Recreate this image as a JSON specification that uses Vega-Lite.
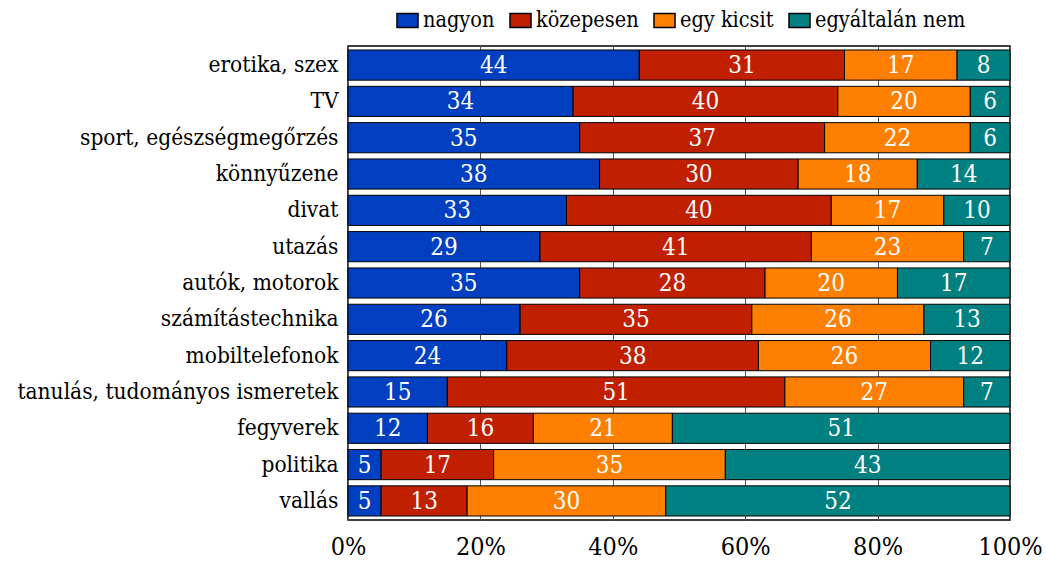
{
  "$schema": "https://vega.github.io/schema/vega-lite/v6.json",
  "autosize": "none",
  "width": 662,
  "height": 474,
  "padding": {"left": 348, "top": 46, "right": 36, "bottom": 41},
  "background": "white",
  "config": {
    "view": {"stroke": "black", "strokeWidth": 1.5},
    "axis": {"labelColor": "black", "domain": false, "ticks": false, "title": null, "labelLimit": 400}
  },
  "data": {"values": [
    {"t": "erotika, szex", "c": "nagyon", "v": 44}, {"t": "erotika, szex", "c": "közepesen", "v": 31}, {"t": "erotika, szex", "c": "egy kicsit", "v": 17}, {"t": "erotika, szex", "c": "egyáltalán nem", "v": 8},
    {"t": "TV", "c": "nagyon", "v": 34}, {"t": "TV", "c": "közepesen", "v": 40}, {"t": "TV", "c": "egy kicsit", "v": 20}, {"t": "TV", "c": "egyáltalán nem", "v": 6},
    {"t": "sport, egészségmegőrzés", "c": "nagyon", "v": 35}, {"t": "sport, egészségmegőrzés", "c": "közepesen", "v": 37}, {"t": "sport, egészségmegőrzés", "c": "egy kicsit", "v": 22}, {"t": "sport, egészségmegőrzés", "c": "egyáltalán nem", "v": 6},
    {"t": "könnyűzene", "c": "nagyon", "v": 38}, {"t": "könnyűzene", "c": "közepesen", "v": 30}, {"t": "könnyűzene", "c": "egy kicsit", "v": 18}, {"t": "könnyűzene", "c": "egyáltalán nem", "v": 14},
    {"t": "divat", "c": "nagyon", "v": 33}, {"t": "divat", "c": "közepesen", "v": 40}, {"t": "divat", "c": "egy kicsit", "v": 17}, {"t": "divat", "c": "egyáltalán nem", "v": 10},
    {"t": "utazás", "c": "nagyon", "v": 29}, {"t": "utazás", "c": "közepesen", "v": 41}, {"t": "utazás", "c": "egy kicsit", "v": 23}, {"t": "utazás", "c": "egyáltalán nem", "v": 7},
    {"t": "autók, motorok", "c": "nagyon", "v": 35}, {"t": "autók, motorok", "c": "közepesen", "v": 28}, {"t": "autók, motorok", "c": "egy kicsit", "v": 20}, {"t": "autók, motorok", "c": "egyáltalán nem", "v": 17},
    {"t": "számítástechnika", "c": "nagyon", "v": 26}, {"t": "számítástechnika", "c": "közepesen", "v": 35}, {"t": "számítástechnika", "c": "egy kicsit", "v": 26}, {"t": "számítástechnika", "c": "egyáltalán nem", "v": 13},
    {"t": "mobiltelefonok", "c": "nagyon", "v": 24}, {"t": "mobiltelefonok", "c": "közepesen", "v": 38}, {"t": "mobiltelefonok", "c": "egy kicsit", "v": 26}, {"t": "mobiltelefonok", "c": "egyáltalán nem", "v": 12},
    {"t": "tanulás, tudományos ismeretek", "c": "nagyon", "v": 15}, {"t": "tanulás, tudományos ismeretek", "c": "közepesen", "v": 51}, {"t": "tanulás, tudományos ismeretek", "c": "egy kicsit", "v": 27}, {"t": "tanulás, tudományos ismeretek", "c": "egyáltalán nem", "v": 7},
    {"t": "fegyverek", "c": "nagyon", "v": 12}, {"t": "fegyverek", "c": "közepesen", "v": 16}, {"t": "fegyverek", "c": "egy kicsit", "v": 21}, {"t": "fegyverek", "c": "egyáltalán nem", "v": 51},
    {"t": "politika", "c": "nagyon", "v": 5}, {"t": "politika", "c": "közepesen", "v": 17}, {"t": "politika", "c": "egy kicsit", "v": 35}, {"t": "politika", "c": "egyáltalán nem", "v": 43},
    {"t": "vallás", "c": "nagyon", "v": 5}, {"t": "vallás", "c": "közepesen", "v": 13}, {"t": "vallás", "c": "egy kicsit", "v": 30}, {"t": "vallás", "c": "egyáltalán nem", "v": 52}
  ]},
  "transform": [
    {"calculate": "indexof(['nagyon','közepesen','egy kicsit','egyáltalán nem'], datum.c)", "as": "o"},
    {"stack": "v", "groupby": ["t"], "sort": [{"field": "o"}], "as": ["x0", "x1"]},
    {"calculate": "(datum.x0 + datum.x1) / 2", "as": "xm"}
  ],
  "encoding": {
    "y": {"field": "t", "type": "nominal", "sort": null,
      "scale": {"paddingInner": 0.17, "paddingOuter": 0.11},
      "axis": {"labelFont": "DejaVu Serif Condensed", "labelFontSize": 22.5, "labelPadding": 10, "grid": false}}
  },
  "layer": [
    {
      "mark": {"type": "bar", "stroke": "black", "strokeWidth": 1},
      "encoding": {
        "x": {"field": "x0", "type": "quantitative", "scale": {"domain": [0, 100], "nice": false},
          "axis": {"values": [0, 20, 40, 60, 80, 100], "labelExpr": "datum.value + '%'", "labelFont": "DejaVu Serif Condensed", "labelFontSize": 25, "labelPadding": 14, "labelFlush": false, "grid": true, "gridColor": "#555", "gridWidth": 1}},
        "x2": {"field": "x1"},
        "color": {"field": "c", "type": "nominal",
          "scale": {"domain": ["nagyon", "közepesen", "egy kicsit", "egyáltalán nem"], "range": ["#0040C0", "#C02000", "#FF8000", "#008080"]},
          "legend": {"orient": "none", "legendX": 48, "legendY": -37, "direction": "horizontal", "title": null,
            "labelFont": "DejaVu Serif Condensed", "labelLimit": 300,
            "labelFontSize": 21.5, "labelColor": "black", "symbolType": "M-1,-0.667H1V0.667H-1Z", "symbolSize": 441,
            "symbolStrokeColor": "black", "symbolStrokeWidth": 1.5, "symbolOpacity": 1, "labelOffset": 4, "columnPadding": 12}}
      }
    },
    {
      "mark": {"type": "text", "color": "white", "font": "DejaVu Serif Condensed", "fontSize": 24, "baseline": "middle", "dy": 1},
      "encoding": {
        "x": {"field": "xm", "type": "quantitative"},
        "text": {"field": "v", "type": "quantitative"}
      }
    }
  ]
}
